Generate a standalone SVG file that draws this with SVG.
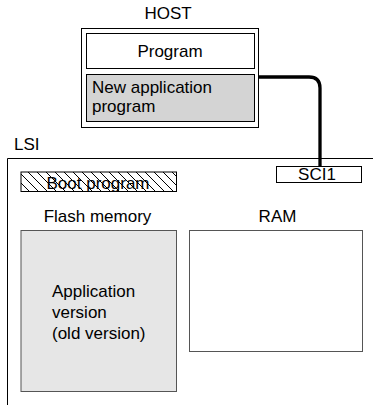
<svg xmlns="http://www.w3.org/2000/svg" width="373" height="405" viewBox="0 0 373 405">
<style>
text{font-family:"Liberation Sans",Arial,sans-serif;font-size:17px;fill:#000}
.c{text-anchor:middle}
.box{stroke:#000;stroke-width:1}
</style>
<defs>
<pattern id="hatch" patternUnits="userSpaceOnUse" width="9" height="9">
<path d="M-2,-2 L11,11 M-2,7 L2,11 M7,-2 L11,2" stroke="#000" stroke-width="1"/>
</pattern>
</defs>
<rect width="373" height="405" fill="#fff"/>
<g id="host">
<text class="c" x="168" y="19">HOST</text>
<rect class="box" x="81.5" y="28.5" width="177" height="99" fill="#fff"/>
</g>
<g id="program">
<rect class="box" x="86.5" y="33.5" width="168" height="35" fill="#fff"/>
<text class="c" x="170" y="57">Program</text>
</g>
<g id="newapp">
<rect class="box" x="86.5" y="74.5" width="168" height="47" fill="#d4d4d4"/>
<text x="92" y="93" font-size="16.5">New application</text>
<text x="92" y="112" font-size="16.5">program</text>
</g>
<g id="lsi">
<text x="14" y="150">LSI</text>
<path d="M7.5,405 V158.5 H373" fill="none" stroke="#000" stroke-width="1"/>
</g>
<g id="boot">
<rect class="box" x="21" y="172" width="155.5" height="19.5" fill="url(#hatch)"/>
<text class="c" x="98" y="189">Boot program</text>
</g>
<g id="sci1">
<rect class="box" x="276.5" y="166.5" width="85" height="16" fill="#fff"/>
<text class="c" x="317" y="180">SCI1</text>
</g>
<g id="flash">
<text class="c" x="97.5" y="222">Flash memory</text>
<rect x="21" y="230.5" width="155.5" height="161" fill="#e6e6e6" stroke="#555" stroke-width="1"/>
<text x="52" y="297">Application</text>
<text x="52" y="318">version</text>
<text x="52" y="339">(old version)</text>
</g>
<g id="ram">
<text class="c" x="277.5" y="222">RAM</text>
<rect x="189.5" y="230.5" width="173" height="121" fill="#fff" stroke="#555" stroke-width="1"/>
</g>
<g id="connectors">
<path d="M259,77 H309 Q320,77 320,88 V166" fill="none" stroke="#000" stroke-width="3.3"/>
</g>
</svg>
